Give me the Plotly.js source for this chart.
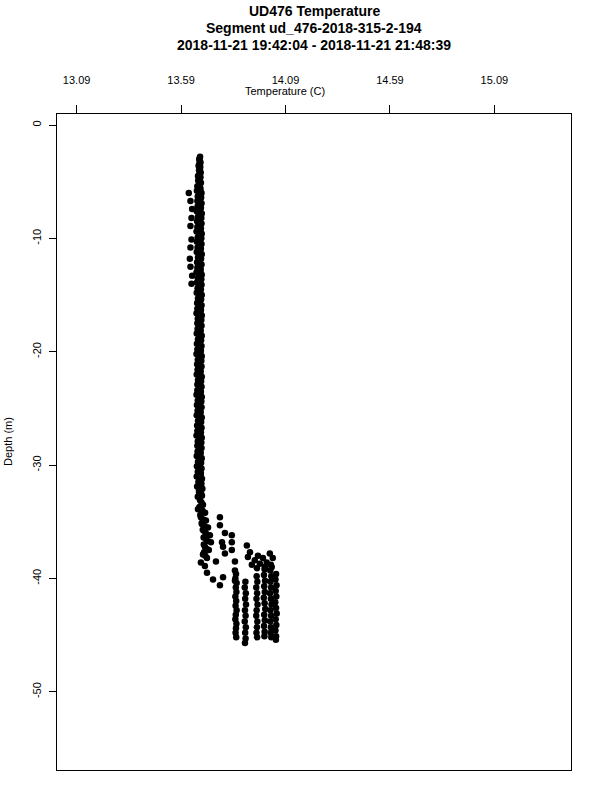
<!DOCTYPE html>
<html>
<head>
<meta charset="utf-8">
<script src="https://cdn.plot.ly/plotly-3.0.1.min.js"></script>
<style>html,body{margin:0;padding:0;background:#fff;}</style>
</head>
<body>
<div id="chart" style="width:600px;height:800px;"></div>
<script>
// Main (upper) column of the profile, first pass
const mainDepth = [
-2.8,-3.1,-3.4,-3.7,-4.0,-4.3,-4.6,-4.9,-5.2,-5.5,
-5.8,-6.1,-6.4,-6.7,-7.0,-7.3,-7.6,-7.9,-8.2,-8.5,
-8.8,-9.1,-9.4,-9.7,-10.0,-10.3,-10.6,-10.9,-11.2,-11.5,
-11.8,-12.1,-12.4,-12.7,-13.0,-13.3,-13.6,-13.9,-14.2,-14.5,
-14.8,-15.1,-15.4,-15.7,-16.0,-16.3,-16.6,-16.9,-17.2,-17.5,
-17.8,-18.1,-18.4,-18.7,-19.0,-19.3,-19.6,-19.9,-20.2,-20.5,
-20.8,-21.1,-21.4,-21.7,-22.0,-22.3,-22.6,-22.9,-23.2,-23.5,
-23.8,-24.1,-24.4,-24.7,-25.0,-25.3,-25.6,-25.9,-26.2,-26.5,
-26.8,-27.1,-27.4,-27.7,-28.0,-28.3,-28.6,-28.9,-29.2,-29.5,
-29.8,-30.1,-30.4,-30.7,-31.0,-31.3,-31.6,-31.9,-32.2,-32.5,
-32.8
];
const mainTemp = [
13.681,13.679,13.678,13.682,13.676,13.679,13.683,13.672,13.677,13.681,
13.666,13.678,13.686,13.668,13.676,13.685,13.665,13.678,13.687,13.667,
13.676,13.685,13.664,13.679,13.687,13.666,13.676,13.685,13.665,13.677,
13.686,13.667,13.675,13.684,13.664,13.678,13.687,13.666,13.676,13.685,
13.665,13.679,13.686,13.667,13.676,13.685,13.664,13.677,13.687,13.668,
13.675,13.684,13.665,13.678,13.686,13.666,13.676,13.685,13.664,13.679,
13.687,13.667,13.675,13.684,13.665,13.677,13.686,13.668,13.676,13.685,
13.664,13.678,13.687,13.666,13.676,13.684,13.665,13.679,13.686,13.667,
13.675,13.685,13.664,13.677,13.687,13.668,13.676,13.684,13.665,13.678,
13.686,13.666,13.677,13.685,13.665,13.679,13.687,13.667,13.676,13.686,
13.670
];
// Main column, second pass
const main2Depth = [
-3.0,-3.3,-3.6,-3.9,-4.2,-4.5,-4.8,-5.1,-5.4,-5.7,
-6.0,-6.3,-6.6,-6.9,-7.2,-7.5,-7.8,-8.1,-8.4,-8.7,
-9.0,-9.3,-9.6,-9.9,-10.2,-10.5,-10.8,-11.1,-11.4,-11.7,
-12.0,-12.3,-12.6,-12.9,-13.2,-13.5,-13.8,-14.1,-14.4,-14.7,
-15.0,-15.3,-15.6,-15.9,-16.2,-16.5,-16.8,-17.1,-17.4,-17.7,
-18.0,-18.3,-18.6,-18.9,-19.2,-19.5,-19.8,-20.1,-20.4,-20.7,
-21.0,-21.3,-21.6,-21.9,-22.2,-22.5,-22.8,-23.1,-23.4,-23.7,
-24.0,-24.3,-24.6,-24.9,-25.2,-25.5,-25.8,-26.1,-26.4,-26.7,
-27.0,-27.3,-27.6,-27.9,-28.2,-28.5,-28.8,-29.1,-29.4,-29.7,
-30.0,-30.3,-30.6,-30.9,-31.2,-31.5,-31.8,-32.1,-32.4,-32.7
];
const main2Temp = [
13.677,13.683,13.674,13.680,13.684,13.671,13.679,13.685,13.668,13.683,
13.688,13.670,13.681,13.688,13.669,13.682,13.689,13.671,13.680,13.688,
13.668,13.683,13.689,13.670,13.681,13.688,13.669,13.682,13.689,13.671,
13.680,13.688,13.668,13.683,13.689,13.670,13.681,13.688,13.669,13.682,
13.689,13.671,13.680,13.688,13.668,13.683,13.689,13.670,13.681,13.688,
13.669,13.682,13.689,13.671,13.680,13.688,13.668,13.683,13.689,13.670,
13.681,13.688,13.669,13.682,13.689,13.671,13.680,13.688,13.668,13.683,
13.689,13.670,13.681,13.688,13.669,13.682,13.689,13.671,13.680,13.688,
13.668,13.683,13.689,13.670,13.681,13.688,13.669,13.682,13.689,13.671,
13.680,13.688,13.670,13.684,13.690,13.673,13.686,13.692,13.676,13.690
];
// Cooler outliers near the surface
const outDepth = [-6.0,-6.7,-7.4,-8.2,-8.9,-10.1,-10.8,-11.8,-12.5,-13.3,-14.0];
const outTemp  = [13.627,13.635,13.643,13.640,13.635,13.640,13.635,13.632,13.635,13.643,13.640];
// Transition zone
const transDepth = [
-33.1,-33.5,-33.9,-34.2,-34.6,-34.9,-35.2,-35.5,-35.8,-36.2,
-36.5,-36.8,-37.2,-37.5,-37.9,-38.2,-38.6,-38.9,-39.5,-40.1,
-40.6,-39.9,-38.5,-34.6,-35.3,-36.0,-36.2,-36.8,-36.8,-37.2,
-37.5,-37.8,-38.5,-39.3,-40.2,
-33.3,-33.7,-34.0,-34.4,-34.8,-35.1,-35.4,-35.7,-36.0,-36.4,-36.7,-37.0,-37.4,-37.7,-38.0
];
const transTemp = [
13.681,13.695,13.671,13.705,13.685,13.709,13.690,13.719,13.699,13.728,
13.709,13.733,13.704,13.723,13.695,13.714,13.685,13.704,13.714,13.743,
13.776,13.791,13.757,13.776,13.776,13.800,13.833,13.786,13.833,13.791,
13.833,13.800,13.848,13.848,13.848,
13.688,13.678,13.692,13.682,13.697,13.689,13.703,13.694,13.708,13.698,13.716,13.699,13.713,13.700,13.706
];
// Warm upper edge of the deep cluster
const warmDepth = [-37.1,-37.7,-38.1,-38.0,-38.2,-37.8,-38.4,-38.8,-38.7,-38.6,-38.2,-39.1,-39.0,-39.0];
const warmTemp  = [13.905,13.920,13.910,13.958,13.982,14.015,13.943,13.929,13.967,14.000,14.029,13.953,13.991,14.024];
// Deep cluster columns
const deepDepth = [
-39.6,-40.0,-40.4,-40.8,-41.2,-41.6,-42.0,-42.4,-42.8,-43.2,-43.6,-44.0,-44.4,-44.8,-45.2,
-40.3,-40.8,-41.3,-41.8,-42.3,-42.8,-43.3,-43.8,-44.3,-44.8,-45.3,-45.7,
-39.8,-40.3,-40.8,-41.3,-41.8,-42.3,-42.8,-43.3,-43.8,-44.3,-44.8,-45.2,
-39.2,-39.7,-40.2,-40.7,-41.2,-41.7,-42.2,-42.7,-43.2,-43.7,-44.2,-44.7,-45.1,
-38.8,-39.3,-39.8,-40.3,-40.8,-41.3,-41.8,-42.3,-42.8,-43.3,-43.8,-44.3,-44.8,-45.2,
-39.6,-40.1,-40.6,-41.1,-41.6,-42.1,-42.6,-43.1,-43.6,-44.1,-44.6,-45.1,-45.4
];
const deepTemp = [
13.853,13.850,13.856,13.852,13.855,13.850,13.854,13.851,13.856,13.852,13.850,13.855,13.853,13.851,13.854,
13.898,13.895,13.900,13.897,13.901,13.896,13.899,13.895,13.900,13.897,13.899,13.896,
13.952,13.955,13.950,13.954,13.951,13.956,13.952,13.950,13.955,13.953,13.951,13.954,
13.990,13.987,13.992,13.988,13.991,13.986,13.990,13.993,13.988,13.991,13.987,13.990,13.989,
14.020,14.017,14.022,14.018,14.021,14.016,14.020,14.023,14.018,14.021,14.017,14.020,14.019,14.022,
14.045,14.042,14.047,14.043,14.046,14.041,14.045,14.048,14.043,14.046,14.042,14.045,14.044
];
const titleLines = ['UD476 Temperature', 'Segment ud_476-2018-315-2-194', '2018-11-21 19:42:04 - 2018-11-21 21:48:39'];
const xTickVals = [13.09, 13.59, 14.09, 14.59, 15.09];
const xTickText = ['13.09', '13.59', '14.09', '14.59', '15.09'];
const yTickVals = [0, -10, -20, -30, -40, -50];
const yTickText = ['0', '-10', '-20', '-30', '-40', '-50'];

const allT = [].concat(mainTemp, main2Temp, outTemp, transTemp, warmTemp, deepTemp);
const allD = [].concat(mainDepth, main2Depth, outDepth, transDepth, warmDepth, deepDepth);

const trace = {
  x: allT, y: allD, type: 'scatter', mode: 'markers',
  marker: {color: '#000', size: 6.5, line: {width: 0}},
  hoverinfo: 'skip'
};
const font = 'Liberation Sans, Arial, Helvetica, sans-serif';
const H = 656, T = 114;
const titleY = [11, 28, 45];
const annotations = titleLines.map((t, i) => ({
  text: '<b>' + t + '</b>', xref: 'paper', yref: 'paper',
  x: 0.5, y: 1 + (T - titleY[i]) / H, xanchor: 'center', yanchor: 'middle',
  showarrow: false, font: {family: font, size: 14, color: '#000'}
}));
annotations.push(
  {text: 'Temperature (C)', xref: 'paper', yref: 'paper',
   x: (285-57)/514, y: 1 + (T-91)/H, xanchor: 'center', yanchor: 'middle',
   showarrow: false, font: {family: font, size: 11, color: '#000'}},
  {text: 'Depth (m)', xref: 'paper', yref: 'paper',
   x: (8-57)/514, y: 0.5, xanchor: 'center', yanchor: 'middle', textangle: -90,
   showarrow: false, font: {family: font, size: 11, color: '#000'}}
);
const layout = {
  width: 600, height: 800,
  margin: {l: 57, r: 29, t: 114, b: 30},
  paper_bgcolor: '#fff', plot_bgcolor: '#fff',
  showlegend: false,
  font: {family: font, size: 11, color: '#000'},
  xaxis: {
    side: 'top', range: [12.996, 15.457],
    tickmode: 'array', tickvals: xTickVals, ticktext: xTickText,
    ticks: 'outside', ticklen: 8, tickwidth: 1, tickcolor: '#000',
    ticklabelstandoff: 17,
    showline: true, mirror: true, linecolor: '#000', linewidth: 1,
    showgrid: false, zeroline: false,
    tickfont: {family: font, size: 11, color: '#000'}
  },
  yaxis: {
    range: [-56.9, 0.97],
    tickmode: 'array', tickvals: yTickVals, ticktext: yTickText,
    ticks: 'outside', ticklen: 7, tickwidth: 1, tickcolor: '#000',
    tickangle: -90, ticklabelstandoff: 4,
    showline: true, mirror: true, linecolor: '#000', linewidth: 1,
    showgrid: false, zeroline: false,
    tickfont: {family: font, size: 11, color: '#000'}
  },
  annotations: annotations
};
Plotly.newPlot('chart', [trace], layout, {displayModeBar: false, staticPlot: true});
</script>
</body>
</html>
